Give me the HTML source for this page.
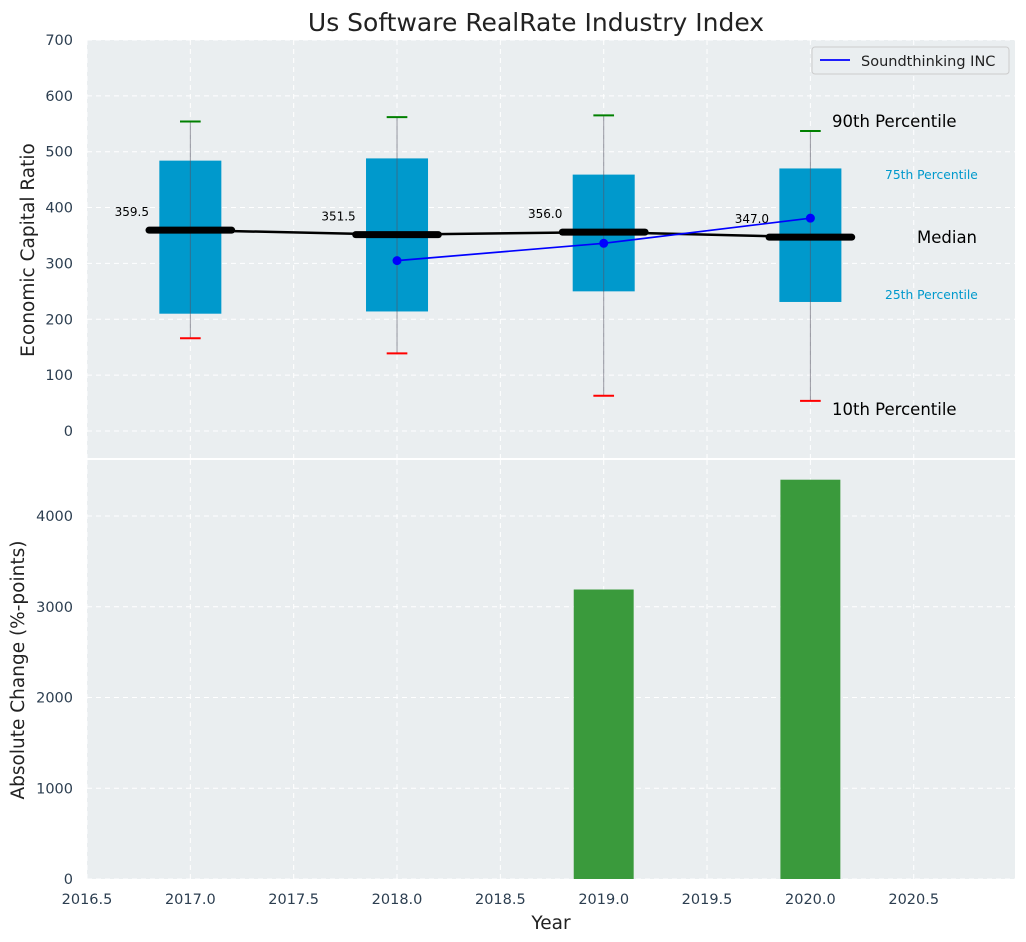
<!DOCTYPE html>
<html><head><meta charset="utf-8"><style>
body{margin:0;background:#fff;font-family:"Liberation Sans","DejaVu Sans",sans-serif}
svg{display:block}
text{font-family:"DejaVu Sans","Liberation Sans",sans-serif}
</style></head><body>
<svg id="c" width="1026" height="942"></svg>
<script>
const years=[2017,2018,2019,2020];
const q1=[210,214,250,231];
const q3=[484,488,459,470];
const medians=[359.5,351.5,356.0,347.0];
const p10=[166,139,63,54];
const p90=[554,562,565,537];
const companyYears=[2018,2019,2020];
const companyValues=[305,336,381];
const barYears=[2019,2020];
const barValues=[3190,4400];
const xTicks=[2016.5,2017.0,2017.5,2018.0,2018.5,2019.0,2019.5,2020.0,2020.5];
const yTopTicks=[0,100,200,300,400,500,600,700];
const yBotTicks=[0,1000,2000,3000,4000];

const NS='http://www.w3.org/2000/svg';
const svg=document.getElementById('c');
function el(t,a,txt,name){const e=document.createElementNS(NS,t);for(const k in a)e.setAttribute(k,a[k]);if(txt!=null)e.textContent=txt;


svg.appendChild(e);return e;}
const L=87,R=1015;
const x=v=>L+(v-2016.5)*(R-L)/(2020.99-2016.5);
const yT=v=>431-v*0.5586;
const yB=v=>879-v*0.09075;
el('rect',{x:L,y:40,width:R-L,height:418,fill:'#eaeef0'},null,'top-plot-area');
el('rect',{x:L,y:460,width:R-L,height:419,fill:'#eaeef0'},null,'bottom-plot-area');
xTicks.forEach(t=>{['t','b'].forEach(p=>{el('line',{x1:x(t),x2:x(t),y1:p=='t'?40:460,y2:p=='t'?458:879,stroke:'#fff','stroke-dasharray':'5,4','stroke-width':1},null,'x-grid-line');});
 el('text',{x:x(t),y:904,'text-anchor':'middle','font-size':14.5,fill:'#2c3e50'},t.toFixed(1),'x-tick-label');});
yTopTicks.forEach(t=>{el('line',{x1:L,x2:R,y1:yT(t),y2:yT(t),stroke:'#fff','stroke-dasharray':'5,4'},null,'y-grid-line');
 el('text',{x:73,y:yT(t)+5,'text-anchor':'end','font-size':14.5,fill:'#2c3e50'},t,'y-tick-label');});
yBotTicks.forEach(t=>{el('line',{x1:L,x2:R,y1:yB(t),y2:yB(t),stroke:'#fff','stroke-dasharray':'5,4'},null,'y-grid-line');
 el('text',{x:73,y:yB(t)+5,'text-anchor':'end','font-size':14.5,fill:'#2c3e50'},t,'y-tick-label');});
years.forEach((yr,i)=>{
 const cx=x(yr),hw=x(yr+0.15)-cx;
 el('rect',{x:cx-hw,y:yT(q3[i]),width:2*hw,height:yT(q1[i])-yT(q3[i]),fill:'#0099cc'},null,'box-'+yr);
 el('line',{x1:cx,x2:cx,y1:yT(p90[i]),y2:yT(p10[i]),stroke:'#556','stroke-opacity':0.6,'stroke-width':1},null,'whisker-'+yr);
 const cw=x(yr+0.05)-cx;
 el('line',{x1:cx-cw,x2:cx+cw,y1:yT(p90[i]),y2:yT(p90[i]),stroke:'green','stroke-width':2},null,'p90-cap');
 el('line',{x1:cx-cw,x2:cx+cw,y1:yT(p10[i]),y2:yT(p10[i]),stroke:'red','stroke-width':2},null,'p10-cap');
});
el('polyline',{points:years.map((yr,i)=>x(yr)+','+yT(medians[i])).join(' '),fill:'none',stroke:'#000','stroke-width':2.5},null,'median-trend-line');
years.forEach((yr,i)=>{
 el('line',{x1:x(yr-0.2),x2:x(yr+0.2),y1:yT(medians[i]),y2:yT(medians[i]),stroke:'#000','stroke-width':7,'stroke-linecap':'round'},null,'median-line');
 el('text',{x:x(yr-0.2),y:yT(medians[i]+25),'text-anchor':'end','font-size':12,fill:'#000'},medians[i].toFixed(1),'median-label');
});
el('polyline',{points:companyYears.map((yr,i)=>x(yr)+','+yT(companyValues[i])).join(' '),fill:'none',stroke:'blue','stroke-width':1.7},null,'company-line');
companyYears.forEach((yr,i)=>el('circle',{cx:x(yr),cy:yT(companyValues[i]),r:4.5,fill:'blue'},null,'company-point'));
el('text',{x:832,y:127,'font-size':16.5,fill:'#000'},'90th Percentile','p90-annotation');
el('text',{x:885,y:179,'font-size':12.3,fill:'#0099cc'},'75th Percentile','p75-annotation');
el('text',{x:917,y:243,'font-size':16.5,fill:'#000'},'Median','median-annotation');
el('text',{x:885,y:299,'font-size':12.3,fill:'#0099cc'},'25th Percentile','p25-annotation');
el('text',{x:832,y:415,'font-size':16.5,fill:'#000'},'10th Percentile','p10-annotation');
barYears.forEach((yr,i)=>{const hw=x(yr+0.145)-x(yr);
 el('rect',{x:x(yr)-hw,y:yB(barValues[i]),width:2*hw,height:879-yB(barValues[i]),fill:'#3a9a3c'},null,'change-bar-'+yr);});
el('rect',{x:812,y:47,width:197,height:27,fill:'#eaeef0',stroke:'#ccc',rx:3},null,'legend');
el('line',{x1:820,x2:850,y1:60,y2:60,stroke:'blue','stroke-width':1.7},null,'legend-swatch');
el('text',{x:861,y:66,'font-size':14.5,fill:'#222'},'Soundthinking INC','legend-label');
el('text',{x:536,y:31,'text-anchor':'middle','font-size':25,fill:'#222'},'Us Software RealRate Industry Index','chart-title');
el('text',{x:551,y:929,'text-anchor':'middle','font-size':18.5,fill:'#222'},'Year','x-axis-title');
el('text',{x:34,y:250,'text-anchor':'middle','font-size':18.5,fill:'#222',transform:'rotate(-90 34 250)'},'Economic Capital Ratio','y-axis-title-top');
el('text',{x:24,y:670,'text-anchor':'middle','font-size':18.5,fill:'#222',transform:'rotate(-90 24 670)'},'Absolute Change (%-points)','y-axis-title-bottom');
</script>
</body></html>
